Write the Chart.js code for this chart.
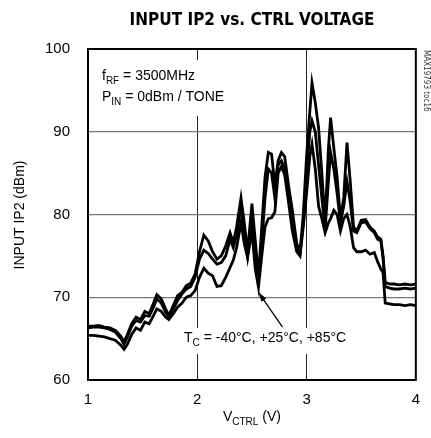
<!DOCTYPE html>
<html>
<head>
<meta charset="utf-8">
<script src="https://cdn.jsdelivr.net/npm/chart.js@4/dist/chart.umd.min.js"></script>
<style>
  html, body { margin: 0; padding: 0; background: #fff; }
  #wrap { width: 431px; height: 438px; position: relative; }
</style>
</head>
<body>
<div id="wrap"><canvas id="chart" width="431" height="438"></canvas></div>
<script>
// ========== DATA ==========
const vctrl = [1.00, 1.05, 1.10, 1.15, 1.20, 1.25, 1.30, 1.33, 1.36, 1.40, 1.44, 1.48, 1.52, 1.56, 1.60, 1.63, 1.67, 1.71, 1.74, 1.78,
  1.82, 1.86, 1.90, 1.94, 1.98, 2.02, 2.06, 2.10, 2.14, 2.18, 2.22, 2.26, 2.30, 2.33, 2.36, 2.40, 2.43, 2.46, 2.50, 2.53,
  2.56, 2.59, 2.62, 2.65, 2.68, 2.71, 2.74, 2.77, 2.80, 2.83, 2.87, 2.91, 2.94, 2.97, 3.00, 3.03, 3.05, 3.08, 3.11, 3.14,
  3.17, 3.20, 3.22, 3.25, 3.28, 3.31, 3.34, 3.37, 3.40, 3.43, 3.46, 3.50, 3.54, 3.58, 3.62, 3.65, 3.68, 3.70, 3.72, 3.76,
  3.80, 3.85, 3.90, 3.95, 4.00];

const ip2Cold = [66.5, 66.5, 66.6, 66.4, 66.3, 66.0, 65.3, 64.6, 65.5, 66.8, 67.6, 67.3, 68.3, 68.0, 69.3, 70.3, 69.8, 68.6, 67.8, 69.0,
  70.2, 70.6, 71.4, 71.7, 72.8, 75.5, 77.5, 76.8, 75.5, 74.6, 75.0, 76.2, 77.8, 76.6, 78.5, 82.0, 79.0, 75.5, 81.3, 77.0,
  72.5, 78.5, 84.5, 87.5, 87.3, 83.5, 86.5, 87.5, 87.0, 84.0, 80.5, 76.5, 75.5, 80.0, 87.0, 92.5, 95.9, 93.5, 90.5, 85.0,
  79.0, 88.0, 91.7, 88.0, 84.5, 79.5, 82.0, 88.7, 84.0, 78.5, 78.0, 79.3, 79.4, 78.5, 78.0, 77.3, 77.0, 75.0, 71.8, 71.6,
  71.6, 71.5, 71.6, 71.5, 71.6];

const ip2Room = [66.3, 66.4, 66.4, 66.3, 66.1, 65.8, 65.0, 64.3, 65.2, 66.5, 67.2, 67.0, 67.8, 67.7, 68.8, 69.8, 69.3, 68.2, 67.6, 68.6,
  69.6, 70.4, 71.0, 71.3, 72.4, 74.6, 75.7, 75.3, 74.6, 74.0, 74.2, 75.0, 77.0, 76.0, 77.6, 81.0, 78.0, 75.0, 80.0, 75.5,
  71.8, 76.5, 82.0, 85.5, 85.0, 82.0, 86.0, 86.5, 85.5, 83.5, 80.0, 76.0, 75.2, 79.0, 85.0, 90.0, 91.3, 90.0, 86.0, 82.0,
  78.2, 84.0, 87.5, 85.5, 82.5, 79.0, 81.0, 84.0, 81.5, 78.0, 77.8, 79.0, 79.1, 78.3, 77.8, 77.0, 76.8, 74.7, 71.3, 71.1,
  71.0, 71.0, 71.1, 71.0, 71.1];

const ip2Hot = [65.4, 65.4, 65.3, 65.2, 65.0, 64.8, 64.2, 63.7, 64.3, 65.5, 66.3, 66.0, 67.0, 66.8, 67.8, 68.6, 68.3, 67.6, 67.3, 68.0,
  68.8, 69.3, 70.0, 70.2, 70.8, 72.4, 73.5, 72.9, 72.6, 71.3, 71.4, 72.4, 73.6, 74.5, 76.0, 79.0, 76.5, 74.8, 78.0, 73.5,
  71.2, 75.0, 78.5, 79.5, 79.6, 80.3, 85.0, 85.8, 84.8, 82.0, 78.0, 75.5, 75.0, 78.5, 82.5, 87.0, 88.5, 85.5, 81.0, 79.5,
  77.8, 79.0, 79.5, 80.5, 80.0, 78.0, 79.5, 80.0, 78.5, 76.0, 75.5, 75.5, 75.7, 75.2, 75.4, 74.3, 73.4, 73.0, 69.3, 69.2,
  69.1, 69.1, 69.0, 69.1, 69.0];

const xTicks = [1, 2, 3, 4];
const yTicks = [60, 70, 80, 90, 100];

const FONT = "'Liberation Sans', Arial, sans-serif";
const NARROW = "'Liberation Sans Narrow', 'DejaVu Sans Condensed', sans-serif";

function toPoints(ys) {
  return vctrl.map((v, i) => ({ x: v, y: ys[i] }));
}

// measure / draw text with subscripts: parts = [[text, isSub], ...]
function richWidth(ctx, parts, size) {
  let w = 0;
  parts.forEach(([t, sub]) => {
    ctx.font = (sub ? Math.round(size * 0.72) : size) + "px " + FONT;
    w += ctx.measureText(t).width;
  });
  return w;
}

function drawRich(ctx, parts, x, y, size) {
  let cx = x;
  parts.forEach(([t, sub]) => {
    ctx.font = (sub ? Math.round(size * 0.72) : size) + "px " + FONT;
    ctx.fillText(t, cx, sub ? y + size * 0.3 : y);
    cx += ctx.measureText(t).width;
  });
}

function knockout(ctx, x, y, w, h) {
  ctx.save();
  ctx.fillStyle = "#fff";
  ctx.fillRect(x, y, w, h);
  ctx.restore();
}

const decorations = {
  id: "decorations",
  afterDraw(chart) {
    const ctx = chart.ctx;
    const xs = chart.scales.x, ys = chart.scales.y;
    const a = chart.chartArea;
    ctx.save();
    ctx.fillStyle = "#000";
    ctx.textBaseline = "alphabetic";

    // title
    ctx.font = "bold 17px " + NARROW;
    ctx.textAlign = "center";
    ctx.fillText("INPUT IP2 vs. CTRL VOLTAGE", 252, 25);

    // y axis title
    ctx.save();
    ctx.translate(24, 215);
    ctx.rotate(-Math.PI / 2);
    ctx.font = "14px " + FONT;
    ctx.textAlign = "center";
    ctx.fillText("INPUT IP2 (dBm)", 0, 0);
    ctx.restore();

    // x axis title with subscript
    ctx.textAlign = "left";
    const xParts = [["V", false], ["CTRL", true], [" (V)", false]];
    const w = richWidth(ctx, xParts, 14);
    drawRich(ctx, xParts, (a.left + a.right) / 2 - w / 2, 421, 14);

    // condition notes (white box hides the grid behind them)
    const n1 = [["f", false], ["RF", true], [" = 3500MHz", false]];
    const n2 = [["P", false], ["IN", true], [" = 0dBm / TONE", false]];
    const nw = Math.max(richWidth(ctx, n1, 14), richWidth(ctx, n2, 14));
    knockout(ctx, a.left + 9, 60, nw + 12, 56);
    drawRich(ctx, n1, a.left + 14, 80, 14);
    drawRich(ctx, n2, a.left + 14, 101, 14);

    // temperature note + arrow
    const n3 = [["T", false], ["C", true], [" = -40°C, +25°C, +85°C", false]];
    knockout(ctx, 180, 328, richWidth(ctx, n3, 14) + 8, 26);
    drawRich(ctx, n3, 184, 342, 14);
    const tipX = xs.getPixelForValue(2.56), tipY = ys.getPixelForValue(70.6);
    const tailX = xs.getPixelForValue(2.78), tailY = ys.getPixelForValue(66.4);
    ctx.strokeStyle = "#000";
    ctx.lineWidth = 1.3;
    ctx.beginPath();
    ctx.moveTo(tailX, tailY);
    ctx.lineTo(tipX, tipY);
    ctx.stroke();
    const ang = Math.atan2(tipY - tailY, tipX - tailX);
    ctx.beginPath();
    ctx.moveTo(tipX, tipY);
    ctx.lineTo(tipX - 10 * Math.cos(ang - 0.3), tipY - 10 * Math.sin(ang - 0.3));
    ctx.lineTo(tipX - 10 * Math.cos(ang + 0.3), tipY - 10 * Math.sin(ang + 0.3));
    ctx.closePath();
    ctx.fill();

    // side code
    ctx.save();
    ctx.translate(424, 50);
    ctx.rotate(Math.PI / 2);
    ctx.font = "8px " + NARROW;
    ctx.fillStyle = "#333";
    ctx.fillText("MAX19793 toc16", 0, 0);
    ctx.restore();

    // frame
    ctx.strokeStyle = "#000";
    ctx.lineWidth = 2;
    ctx.strokeRect(a.left, a.top, a.right - a.left, a.bottom - a.top);
    ctx.restore();
  }
};

const lineStyle = {
  borderColor: "#000",
  borderWidth: 2.8,
  pointRadius: 0,
  tension: 0,
  fill: false
};

new Chart(document.getElementById("chart"), {
  type: "line",
  data: {
    datasets: [
      Object.assign({ label: "-40°C", data: toPoints(ip2Cold) }, lineStyle),
      Object.assign({ label: "+25°C", data: toPoints(ip2Room) }, lineStyle),
      Object.assign({ label: "+85°C", data: toPoints(ip2Hot) }, lineStyle)
    ]
  },
  options: {
    responsive: false,
    animation: false,
    layout: { padding: { left: 0, top: 49, right: 13, bottom: 0 } },
    plugins: {
      legend: { display: false },
      tooltip: { enabled: false }
    },
    scales: {
      x: {
        type: "linear",
        min: 1,
        max: 4,
        afterBuildTicks: s => { s.ticks = xTicks.map(v => ({ value: v })); },
        afterFit: s => { s.height = 58; },
        grid: {
          drawTicks: false,
          color: ctx => (ctx.tick && (ctx.tick.value === 1 || ctx.tick.value === 4)) ? "rgba(0,0,0,0)" : "#222",
          lineWidth: 1
        },
        border: { display: false },
        ticks: { color: "#000", padding: 11, font: { family: FONT, size: 15 } }
      },
      y: {
        min: 60,
        max: 100,
        afterBuildTicks: s => { s.ticks = yTicks.map(v => ({ value: v })); },
        afterFit: s => { s.width = 88; },
        grid: {
          drawTicks: false,
          color: ctx => (ctx.tick && (ctx.tick.value === 60 || ctx.tick.value === 100)) ? "rgba(0,0,0,0)" : "#777",
          lineWidth: 1.3
        },
        border: { display: false },
        ticks: { color: "#000", padding: 18, font: { family: FONT, size: 15 } }
      }
    }
  },
  plugins: [decorations]
});
</script>
</body>
</html>
